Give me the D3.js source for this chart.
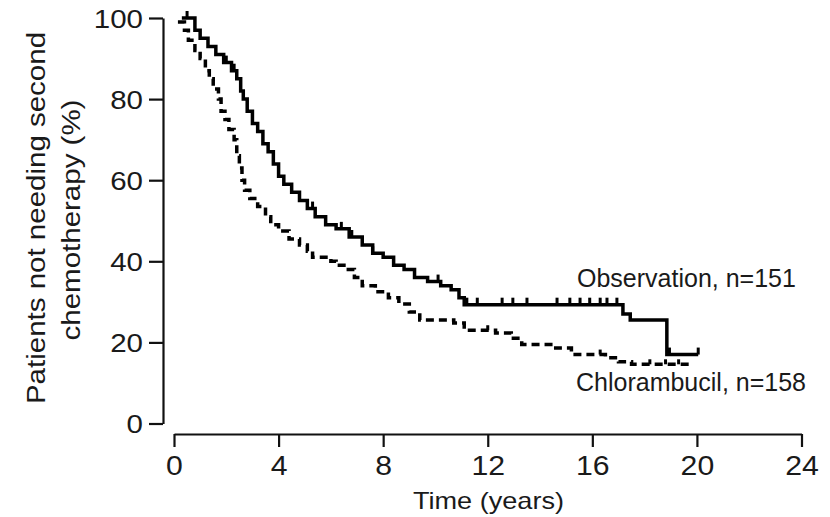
<!DOCTYPE html>
<html>
<head>
<meta charset="utf-8">
<script src="https://cdn.jsdelivr.net/npm/d3@7"></script>
<style>
  html, body { margin: 0; padding: 0; background: #fff; }
  svg { display: block; }
  text { font-family: "Liberation Sans", Arial, sans-serif; fill: #1a1a1a; }
</style>
</head>
<body>
<svg id="chart" width="830" height="517"></svg>
<script>
// ---- data ----
const xTicks = [0, 4, 8, 12, 16, 20, 24];
const yTicks = [0, 20, 40, 60, 80, 100];

// Observation arm: [time (years), % not needing second chemotherapy]
const observationTimes = [0.3, 0.8, 1.0, 1.3, 1.6, 1.9, 2.2, 2.4, 2.55, 2.65, 2.8, 3.0, 3.2, 3.4, 3.6, 3.8, 4.0, 4.2, 4.5, 4.8, 5.1, 5.4, 5.8, 6.2, 6.7, 7.2, 7.6, 8.0, 8.4, 8.8, 9.2, 9.7, 10.2, 10.6, 10.9, 11.1, 17.17, 17.45, 18.85, 20.05];
const observationValues = [100, 97, 95, 93, 91, 89, 87, 85, 82, 80, 77, 74, 72, 69, 67, 64, 61, 59, 57, 55, 53, 51, 49, 48, 46, 44, 42, 41, 39, 38, 36, 35, 34, 33, 31, 29.3, 27, 25.5, 17, 17];
const observationCensored = [0.5, 2.0, 2.3, 5.3, 6.4, 6.8, 7.6, 10.1, 11.2, 11.6, 12.55, 12.96, 13.5, 14.65, 15.14, 15.53, 15.9, 16.3, 16.56, 16.94, 18.95, 20.05];

// Chlorambucil arm
const chlorambucilTimes = [0.15, 0.4, 0.55, 0.8, 1.0, 1.2, 1.35, 1.5, 1.7, 1.8, 1.95, 2.1, 2.3, 2.4, 2.5, 2.6, 2.7, 2.9, 3.2, 3.5, 3.7, 4.0, 4.4, 4.8, 5.1, 5.3, 6.0, 6.2, 6.5, 6.9, 7.2, 7.7, 8.2, 8.6, 9.0, 9.4, 10.7, 11.1, 12.3, 12.9, 13.3, 14.6, 15.2, 16.5, 17.0, 17.5, 19.7];
const chlorambucilValues = [99, 97, 94.5, 92, 90, 87, 85, 82.5, 80, 77, 75, 72.5, 70, 66, 63, 60, 57.5, 55.5, 53.5, 51, 49, 47.5, 45.5, 44, 42.5, 41, 40, 39, 38, 36, 34, 32.5, 31, 29.5, 27.5, 25.5, 24.8, 23, 22.3, 21, 19.5, 18.6, 17, 16.2, 15.2, 14.6, 14.6];
const chlorambucilCensored = [12.0, 16.3, 18.2, 18.8, 19.3];

const seriesLabels = ["Observation, n=151", "Chlorambucil, n=158"];
const xTitle = "Time (years)";
const yTitle = ["Patients not needing second", "chemotherapy (%)"];

// ---- drawing ----
const svg = d3.select("#chart");
const x = d3.scaleLinear().domain([0, 24]).range([174, 801.5]);
const y = d3.scaleLinear().domain([0, 100]).range([423.5, 18]);

// y axis
const yAxis = svg.append("g")
  .attr("transform", "translate(163,0)")
  .call(d3.axisLeft(y).tickValues(yTicks).tickSize(14).tickSizeOuter(0));
yAxis.select(".domain").attr("stroke", "#111").attr("stroke-width", 2.2);
yAxis.selectAll(".tick line").attr("stroke", "#111").attr("stroke-width", 2.2);
yAxis.selectAll(".tick text")
  .attr("x", 0).attr("dy", "0.36em")
  .attr("transform", "translate(-20,0) scale(1.18,1)")
  .attr("font-size", 25)
  .attr("font-family", "Liberation Sans, Arial, sans-serif")
  .attr("fill", "#1a1a1a");

// x axis
const xAxis = svg.append("g")
  .attr("transform", "translate(0,434)")
  .call(d3.axisBottom(x).tickValues(xTicks).tickSize(13).tickSizeOuter(0));
xAxis.select(".domain").attr("stroke", "#111").attr("stroke-width", 2.2);
xAxis.selectAll(".tick line").attr("stroke", "#111").attr("stroke-width", 2.2);
xAxis.selectAll(".tick text")
  .attr("y", 0).attr("dy", 0)
  .attr("transform", "translate(0,41) scale(1.12,1)")
  .attr("font-size", 27)
  .attr("font-family", "Liberation Sans, Arial, sans-serif")
  .attr("fill", "#1a1a1a");

// axis titles
svg.append("text")
  .attr("transform", "translate(488.5,509) scale(1.13,1)")
  .attr("text-anchor", "middle")
  .attr("font-size", 24)
  .text(xTitle);

svg.append("text")
  .attr("transform", "translate(45,218) rotate(-90) scale(1.18,1)")
  .attr("text-anchor", "middle")
  .attr("font-size", 25)
  .text(yTitle[0]);
svg.append("text")
  .attr("transform", "translate(80,220) rotate(-90) scale(1.18,1)")
  .attr("text-anchor", "middle")
  .attr("font-size", 25)
  .text(yTitle[1]);

// curves
function pts(ts, vs) { return ts.map((t, i) => [t, vs[i]]); }
function valueAt(ts, vs, t) {
  let v = vs[0];
  for (let i = 0; i < ts.length; i++) { if (ts[i] <= t) v = vs[i]; }
  return v;
}
const line = d3.line().x(d => x(d[0])).y(d => y(d[1])).curve(d3.curveStepAfter);

svg.append("path")
  .datum(pts(chlorambucilTimes, chlorambucilValues))
  .attr("d", line)
  .attr("fill", "none")
  .attr("stroke", "#000")
  .attr("stroke-width", 3.5)
  .attr("stroke-dasharray", "8,5");

svg.append("path")
  .datum(pts(observationTimes, observationValues))
  .attr("d", line)
  .attr("fill", "none")
  .attr("stroke", "#000")
  .attr("stroke-width", 3.5);

// censor marks
svg.append("g").selectAll("line")
  .data(observationCensored)
  .join("line")
  .attr("x1", d => x(d)).attr("x2", d => x(d))
  .attr("y1", d => y(valueAt(observationTimes, observationValues, d)))
  .attr("y2", d => y(valueAt(observationTimes, observationValues, d)) - 7)
  .attr("stroke", "#000").attr("stroke-width", 3);

svg.append("g").selectAll("line")
  .data(chlorambucilCensored)
  .join("line")
  .attr("x1", d => x(d)).attr("x2", d => x(d))
  .attr("y1", d => y(valueAt(chlorambucilTimes, chlorambucilValues, d)))
  .attr("y2", d => y(valueAt(chlorambucilTimes, chlorambucilValues, d)) - 5)
  .attr("stroke", "#000").attr("stroke-width", 3);

// series labels
svg.append("text").attr("x", 577).attr("y", 287).attr("font-size", 25).text(seriesLabels[0]);
svg.append("text").attr("x", 576).attr("y", 391).attr("font-size", 25).text(seriesLabels[1]);
</script>
</body>
</html>
